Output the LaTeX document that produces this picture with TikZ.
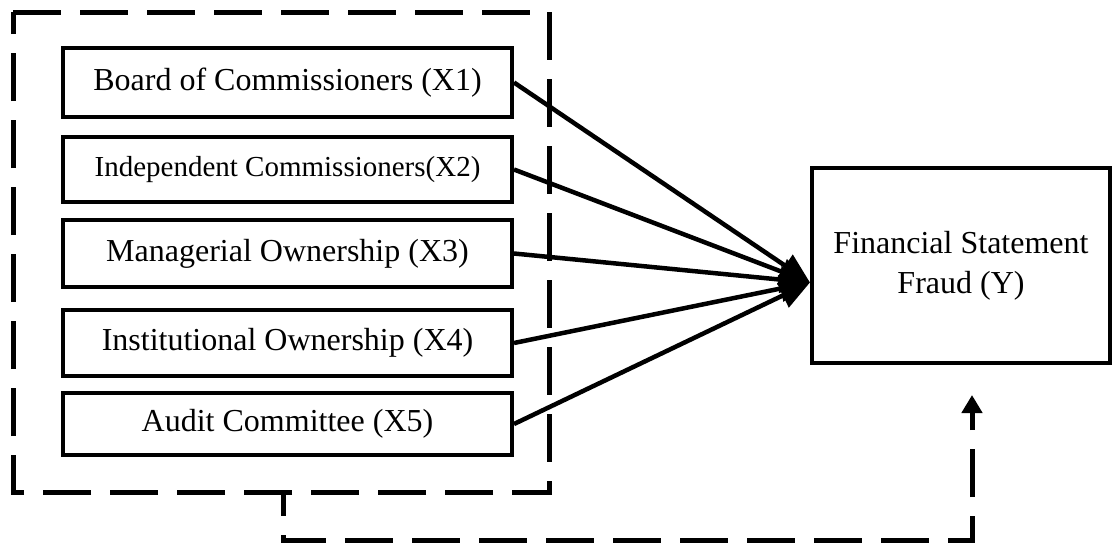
\documentclass[tikz,border=0pt]{standalone}
\usepackage{fontspec}
\setmainfont{Liberation Serif}
\usetikzlibrary{arrows.meta,calc}

\begin{document}
\begin{tikzpicture}[x=1pt, y=-1pt,
    var/.style={draw, line width=4pt, minimum width=449pt, minimum height=66pt, inner sep=0pt,
        font=\fontsize{32}{40}\selectfont},
    link/.style={line width=4.5pt, -{Triangle[length=30pt,width=26pt]}},
    group/.style={line width=5pt, dash pattern=on 48pt off 19pt}]
    \useasboundingbox (0,0) rectangle (1112,544);
    \node[var, minimum height=69pt] (x1) at (287.5,82.5) {Board of Commissioners (X1)};
    \node[var, minimum height=65pt, font=\fontsize{29}{36}\selectfont] (x2) at (287.5,169.5) {Independent Commissioners(X2)};
    \node[var, minimum height=67pt] (x3) at (287.5,253.5) {Managerial Ownership (X3)};
    \node[var] (x4) at (287.5,343) {Institutional Ownership (X4)};
    \node[var, minimum height=62pt] (x5) at (287.5,424) {Audit Committee (X5)};
    \node[draw, line width=4pt, minimum width=298pt, minimum height=195pt, align=center,
        font=\fontsize{32}{40}\selectfont] (y) at (961,265.5) {Financial Statement\\Fraud (Y)};
    \coordinate (tip) at ($(y.west)+(0,17)$);
    \foreach \v in {x1,x2,x3,x4,x5} {\draw[link] (\v.east) -- (tip);}
    % dashed group round the five variables
    \draw[group] (13,12) -- (549,12) -- (549,492) -- (13,492) -- cycle;
    \coordinate (grp) at (283,492);
    \coordinate (fb) at (972,395);
    \draw[group, dash phase=24pt, -{Triangle[length=18pt,width=20pt]}] (grp) -- (283,540) -| (fb);
\end{tikzpicture}
\end{document}
